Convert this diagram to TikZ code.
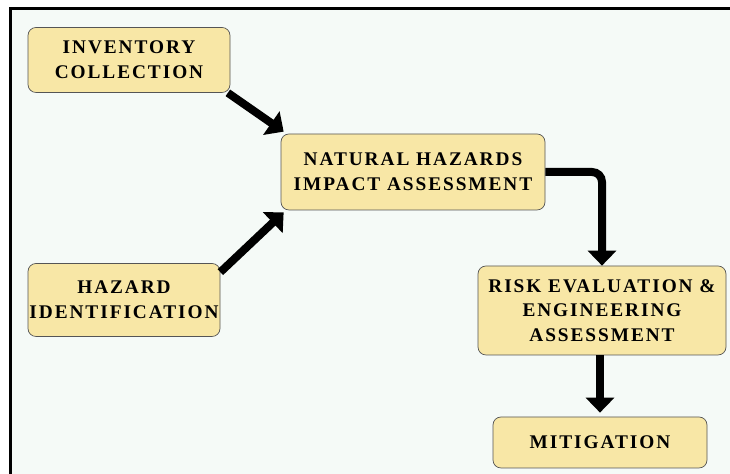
\documentclass[tikz,border=0pt]{standalone}
\usepackage{fontspec}
\setmainfont{Liberation Serif}
\usetikzlibrary{arrows.meta}

\definecolor{boxfill}{HTML}{F8E7A6}
\definecolor{pagebg}{HTML}{F5FAF7}
\definecolor{boxline}{HTML}{555555}

\tikzset{
  stage/.style={draw=boxline, fill=boxfill, rounded corners=0.16cm, align=center,
    inner sep=0pt, font=\addfontfeatures{LetterSpace=10}\fontsize{11}{14}\selectfont\bfseries},
  flow/.style={line width=0.16cm, -{Triangle[length=0.3cm, width=0.56cm]}}
}

\begin{document}
\begin{tikzpicture}

\useasboundingbox (0,0) rectangle (14.6,9.48);
\clip (0,0) rectangle (14.6,9.48);

%frame
\fill[white] (0,0) rectangle (14.6,9.48);
\draw[line width=1.7pt, fill=pagebg] (0.21,9.3) rectangle (15,-0.5);

%boxes
\node [stage, minimum width=4.04cm, minimum height=1.3cm] (inv) at (2.58,8.28) {INVENTORY\\COLLECTION};
\node [stage, minimum width=5.28cm, minimum height=1.52cm] (nat) at (8.26,6.04) {NATURAL HAZARDS\\IMPACT ASSESSMENT};
\node [stage, minimum width=3.84cm, minimum height=1.46cm] (haz) at (2.48,3.48) {HAZARD\\IDENTIFICATION};
\node [stage, minimum width=4.96cm, minimum height=1.78cm] (risk) at (12.04,3.27) {RISK EVALUATION \&\\ENGINEERING\\ASSESSMENT};
\node [stage, minimum width=4.28cm, minimum height=1.02cm] (mit) at (12.0,0.63) {MITIGATION};

%arrows
\draw[flow] ([xshift=-0.05cm]inv.south east) -- ([xshift=0.06cm,yshift=0.04cm]nat.north west);
\draw[flow] ([yshift=-0.18cm]haz.north east) -- ([xshift=0.06cm,yshift=-0.04cm]nat.south west);
\draw[flow, rounded corners=0.2cm] (nat.east) -| (risk.north);
\draw[flow] (risk.south -| mit.north) -- ([yshift=0.08cm]mit.north);

\end{tikzpicture}
\end{document}
